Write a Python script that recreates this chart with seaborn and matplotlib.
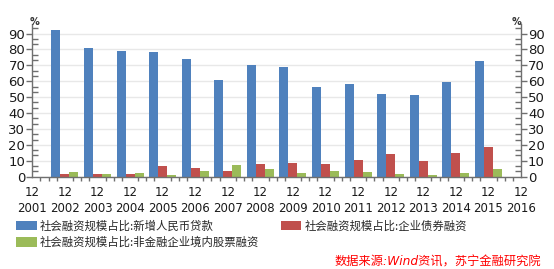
import numpy as np
import pandas as pd
import matplotlib
matplotlib.use("Agg")
import matplotlib.pyplot as plt
from matplotlib.ticker import MultipleLocator, AutoMinorLocator
import seaborn as sns

years = [str(y) for y in range(2001, 2017)]
series_names = ["社会融资规模占比:新增人民币贷款",
                "社会融资规模占比:企业债券融资",
                "社会融资规模占比:非金融企业境内股票融资"]
loans = [np.nan, 92.0, 81.2, 79.2, 78.5, 73.9, 60.9, 70.3, 69.0, 56.5, 58.3, 52.0, 51.4, 59.6, 72.9, np.nan]
bonds = [np.nan, 1.9, 1.4, 1.4, 6.8, 5.6, 3.7, 8.1, 8.8, 8.1, 10.7, 14.4, 10.1, 14.9, 18.9, np.nan]
stocks = [np.nan, 3.1, 1.5, 2.5, 1.3, 3.6, 7.5, 4.8, 2.6, 3.8, 3.2, 1.5, 1.3, 2.6, 4.9, np.nan]
colors = ["#4F81BD", "#C0504D", "#9BBB59"]

df = pd.DataFrame({
    "year": years * 3,
    "value": loans + bonds + stocks,
    "series": [series_names[0]] * 16 + [series_names[1]] * 16 + [series_names[2]] * 16,
})

sns.set_theme(style="white")
plt.rcParams["font.family"] = ["DejaVu Sans", "Noto Sans CJK SC"]

fig = plt.figure(figsize=(5.54, 2.69), dpi=100)
ax = fig.add_axes([32.3 / 554, 1 - 176.7 / 269, (521 - 32.3) / 554, (176.7 - 24) / 269])

sns.barplot(data=df, x="year", y="value", hue="series", order=years,
            hue_order=series_names, palette=colors, width=0.83,
            errorbar=None, saturation=1, linewidth=0, ax=ax, legend=True)

ax.set_xlim(0, 15)
ax.set_ylim(0, 96)
ax.set_xlabel("")
ax.set_ylabel("")

axis_col = "#6f6f6f"
for s in ["left", "right", "bottom"]:
    ax.spines[s].set_visible(True)
    ax.spines[s].set_color(axis_col)
    ax.spines[s].set_linewidth(1.0)
ax.spines["top"].set_visible(False)

ax.yaxis.set_major_locator(MultipleLocator(10))
ax.yaxis.set_minor_locator(AutoMinorLocator(3))
ax.set_xticks(range(16))
ax.set_xticklabels(["12\n" + y for y in years])
ax.xaxis.set_minor_locator(MultipleLocator(0.25))
ax.grid(axis="y", which="major", color="#e8e8e8", linewidth=1.0)
ax.set_axisbelow(True)

ax.tick_params(axis="y", which="major", direction="out", length=4, width=1, color=axis_col,
               left=True, right=True, labelleft=True, labelright=True,
               labelsize=9.5, labelcolor="#1a1a1a", pad=1)
ax.tick_params(axis="y", which="minor", direction="in", length=4, width=1, color=axis_col,
               left=True, right=True)
ax.tick_params(axis="x", which="major", direction="out", length=5, width=1, color=axis_col,
               labelsize=8.5, labelcolor="#1a1a1a", pad=2)
ax.tick_params(axis="x", which="minor", direction="out", length=3, width=1, color=axis_col,
               bottom=True)
for lab in ax.get_xticklabels():
    lab.set_linespacing(1.3)

fig.text(35 / 554, 1 - 22 / 269, "%", fontsize=7, color="#333333", ha="center", va="center",
         fontweight="bold")
fig.text(516 / 554, 1 - 22 / 269, "%", fontsize=7, color="#333333", ha="center", va="center",
         fontweight="bold")

handles, labels = ax.get_legend_handles_labels()
ax.get_legend().remove()
order = [0, 2, 1]
fig.legend([handles[i] for i in order], [labels[i] for i in order],
           loc="upper left", bbox_to_anchor=(16 / 554, 1 - 220 / 269), ncol=2,
           frameon=False, handlelength=1.8, handleheight=0.9,
           handletextpad=0.3, labelspacing=0.45, columnspacing=1.9,
           borderaxespad=0, borderpad=0,
           prop={"family": ["Noto Sans CJK SC", "DejaVu Sans"], "size": 8.2})

fig.text(541 / 554, 1 - 262 / 269, "数据来源:Wind资讯，苏宁金融研究院", color="#ff0000",
         fontsize=8.8, style="italic", ha="right", va="center",
         family=["DejaVu Sans", "Noto Sans CJK SC"])

fig.savefig("out.png", dpi=100)
